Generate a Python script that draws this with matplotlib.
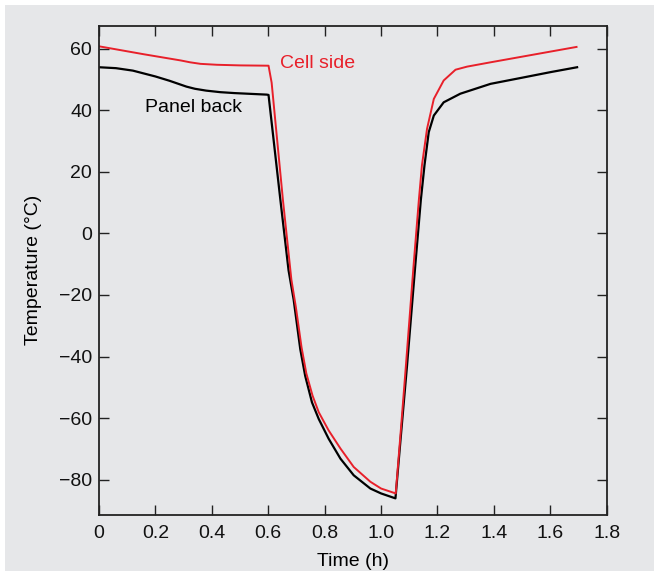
import matplotlib
matplotlib.use('Agg')
import matplotlib.pyplot as plt
from matplotlib.patches import Rectangle

plt.rcParams['font.family'] = ['Liberation Sans', 'DejaVu Sans']

# 电池侧温度 (Cell side)
cell_t = [0, 0.16, 0.29, 0.323, 0.36, 0.418, 0.5, 0.601, 0.612, 0.652, 0.682,
          0.698, 0.718, 0.735, 0.757, 0.779, 0.814, 0.856, 0.903, 0.962, 1.0,
          1.052, 1.07, 1.088, 1.115, 1.134, 1.145, 1.163, 1.187, 1.222, 1.264,
          1.305, 1.388, 1.693]
cell_T = [60.8, 58.2, 56.2, 55.6, 55.1, 54.8, 54.6, 54.5, 49.0, 10.9, -15.0,
          -24.0, -37.0, -45.5, -52.7, -58.1, -64.0, -69.9, -75.9, -80.7, -82.9,
          -84.5, -64.0, -43.0, -10.7, 10.9, 22.2, 34.0, 43.7, 49.7, 53.2,
          54.2, 55.6, 60.6]

# 背板温度 (Panel back)
panel_t = [0, 0.06, 0.12, 0.2, 0.25, 0.31, 0.34, 0.38, 0.43, 0.48, 0.595,
           0.601, 0.643, 0.672, 0.69, 0.7135, 0.731, 0.755, 0.779, 0.814,
           0.856, 0.903, 0.962, 1.0, 1.051, 1.07, 1.092, 1.121, 1.141, 1.154,
           1.169, 1.187, 1.222, 1.281, 1.388, 1.5, 1.6, 1.695]
panel_T = [54.0, 53.7, 52.9, 51.0, 49.6, 47.7, 47.0, 46.4, 45.9, 45.6, 45.1,
           45.0, 10.9, -12.0, -21.5, -37.6, -46.3, -54.9, -60.3, -66.7,
           -73.2, -78.6, -82.9, -84.5, -86.1, -66.0, -43.0, -10.7, 10.9, 22.2,
           32.9, 38.3, 42.6, 45.4, 48.6, 50.6, 52.4, 54.0]

x_ticks = [0, 0.2, 0.4, 0.6, 0.8, 1.0, 1.2, 1.4, 1.6, 1.8]
x_labels = ['0', '0.2', '0.4', '0.6', '0.8', '1.0', '1.2', '1.4', '1.6', '1.8']
y_ticks = [-80, -60, -40, -20, 0, 20, 40, 60]

bg = '#e6e7e9'
red = '#e8202a'
ink = '#222222'

fig = plt.figure(figsize=(6.54, 5.71), dpi=100)
fig.patch.set_facecolor('white')
fig.add_artist(Rectangle((5 / 654, 0), 1, 1 - 5 / 571, transform=fig.transFigure,
                         facecolor=bg, edgecolor='none', zorder=-10))

ax = fig.add_axes([0.1514, 0.0981, 0.7763, 0.8569])
ax.set_facecolor(bg)

ax.plot(panel_t, panel_T, color='black', linewidth=1.6, solid_joinstyle='round')
ax.plot(cell_t, cell_T, color=red, linewidth=1.4, solid_joinstyle='round')

ax.text(0.643, 55.2, 'Cell side', color=red, fontsize=14, va='center', ha='left')
ax.text(0.163, 40.9, 'Panel back', color='black', fontsize=14, va='center', ha='left')

ax.set_xlim(0, 1.8)
ax.set_ylim(-91.5, 67.5)
ax.set_xticks(x_ticks)
ax.set_xticklabels(x_labels)
ax.set_yticks(y_ticks)
ax.yaxis.set_major_formatter(plt.FuncFormatter(lambda v, p: f'{int(v)}'.replace('-', '\u2212')))

ax.tick_params(direction='in', length=7, width=1.0, color=ink, labelsize=14,
               top=True, right=True, labelcolor='#111111')
ax.tick_params(axis='x', pad=7)
ax.tick_params(axis='y', pad=5)
for s in ax.spines.values():
    s.set_color(ink)
    s.set_linewidth(1.3)

ax.set_xlabel('Time (h)', fontsize=14, labelpad=8)
ax.set_ylabel('Temperature (\u00b0C)', fontsize=14, labelpad=12)

fig.savefig('out.png', dpi=100, facecolor=fig.get_facecolor())
